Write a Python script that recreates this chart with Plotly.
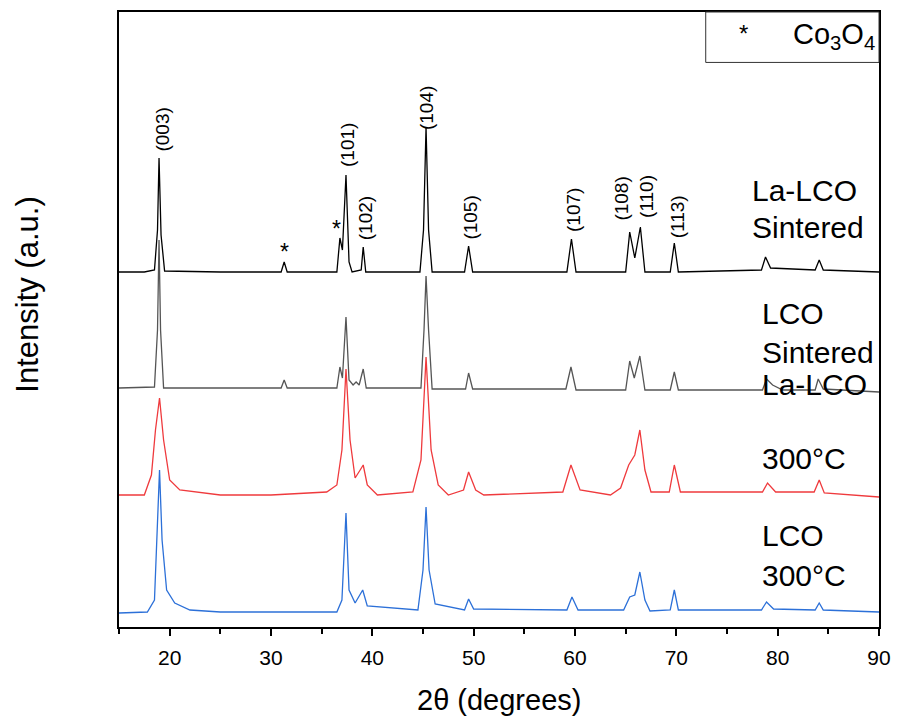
import plotly.graph_objects as go

# ---- data (2theta in degrees, intensity in arbitrary units, already offset) ----
la_sint_x = [15.0, 17.5, 18.5, 18.8, 18.95, 19.15, 19.5, 25.0, 31.0, 31.3, 31.6, 36.5, 36.8, 37.05, 37.4, 37.7,
             38.0, 38.9, 39.1, 39.35, 44.7, 45.05, 45.3, 45.55, 45.9, 49.1, 49.5, 49.9, 59.2, 59.65, 60.1,
             65.0, 65.4, 65.9, 66.45, 66.9, 69.4, 69.8, 70.2, 78.4, 78.8, 79.3, 83.7, 84.1, 84.5, 90.0]
la_sint_y = [355, 355, 357, 397, 469, 392, 356, 355, 355, 365, 355, 355, 389, 377, 452, 365,
             355, 357, 380, 355, 355, 397, 500, 397, 355, 355, 381, 355, 355, 388, 355,
             355, 395, 369, 400, 355, 355, 384, 355, 357, 370, 359, 357, 367, 357, 355]

lco_sint_x = [15.0, 18.5, 18.8, 18.95, 19.1, 19.4, 31.0, 31.3, 31.6, 36.5, 36.8, 37.05, 37.4, 37.7, 38.1, 38.4,
              38.7, 39.1, 39.4, 44.8, 45.1, 45.3, 45.55, 45.9, 49.2, 49.5, 49.9, 59.1, 59.6, 60.1,
              65.0, 65.4, 65.85, 66.4, 66.9, 69.4, 69.8, 70.2, 78.5, 78.9, 79.5, 80.5, 83.7, 84.0, 84.5, 90.0]
lco_sint_y = [239, 240, 297, 387, 297, 239, 239, 247, 239, 239, 260, 249, 310, 247, 242, 245,
              242, 258, 239, 239, 297, 351, 297, 238, 238, 254, 238, 238, 260, 237,
              237, 266, 249, 271, 237, 237, 255, 237, 237, 248, 242, 237, 237, 248, 238, 235]

la_300_x = [15.0, 17.5, 18.2, 18.6, 19.0, 19.4, 20.0, 21.0, 25.0, 30.0, 35.5, 36.5, 37.0, 37.4, 37.8, 38.3,
            38.8, 39.1, 39.5, 40.5, 44.0, 44.8, 45.3, 45.8, 46.5, 47.5, 49.0, 49.5, 50.2, 51.0,
            58.8, 59.6, 60.5, 63.5, 64.5, 65.3, 65.9, 66.4, 66.9, 67.5, 69.3, 69.8, 70.4,
            78.5, 79.0, 79.8, 83.6, 84.1, 84.6, 90.0]
la_300_y = [132, 132, 152, 197, 229, 187, 147, 137, 132, 132, 135, 142, 177, 258, 187, 149,
            157, 162, 142, 132, 135, 167, 270, 177, 142, 132, 137, 155, 137, 132,
            135, 162, 137, 132, 139, 162, 172, 197, 157, 135, 135, 162, 135,
            135, 144, 135, 135, 147, 134, 130]

lco_300_x = [15.0, 17.8, 18.5, 18.8, 19.0, 19.25, 19.7, 20.5, 22.0, 25.0, 36.5, 37.0, 37.4, 37.7, 38.3,
             39.05, 39.5, 44.5, 45.0, 45.3, 45.6, 46.2, 49.1, 49.5, 50.0, 59.2, 59.7, 60.3,
             64.8, 65.4, 65.9, 66.4, 66.9, 67.4, 69.4, 69.8, 70.2, 78.4, 78.9, 79.6, 83.7, 84.1, 84.5, 90.0]
lco_300_y = [14, 15, 27, 107, 157, 87, 37, 24, 17, 15, 15, 27, 114, 37, 24,
             37, 21, 17, 57, 120, 57, 23, 17, 28, 18, 17, 30, 17,
             17, 30, 32, 55, 27, 16, 17, 37, 17, 17, 25, 18, 17, 24, 17, 15]

# hkl labels: (label, 2theta, label-centre intensity)
hkl_labels = ["(003)", "(101)", "(102)", "(104)", "(105)", "(107)", "(108)", "(110)", "(113)"]
hkl_x = [19.2, 37.5, 39.3, 45.3, 49.6, 59.8, 64.5, 67.0, 70.1]
hkl_y = [497, 482, 409, 519, 409, 417, 428, 431, 410]

star_x = [31.3, 36.5]
star_y = [375, 398]

sample_lines = ["La-LCO", "Sintered", "LCO", "Sintered", "La-LCO", "300°C", "LCO", "300°C"]
sample_x = [77.3, 77.3, 78.3, 78.3, 78.3, 78.3, 78.3, 78.3]
sample_y = [437, 400, 314, 275, 243, 169, 92, 52]

colors = ["#000000", "#555555", "#ef3a3d", "#2c70d8"]

fig = go.Figure()
series = [(la_sint_x, la_sint_y), (lco_sint_x, lco_sint_y), (la_300_x, la_300_y), (lco_300_x, lco_300_y)]
for (xs, ys), c in zip(series, colors):
    fig.add_trace(go.Scatter(x=xs, y=ys, mode="lines", line=dict(color=c, width=1.3),
                             showlegend=False, hoverinfo="skip"))

font_family = '"Liberation Sans", Arial, sans-serif'

for lab, x, y in zip(hkl_labels, hkl_x, hkl_y):
    fig.add_annotation(x=x, y=y, text=lab, showarrow=False, textangle=-90,
                       font=dict(size=19, color="#000", family=font_family))

for x, y in zip(star_x, star_y):
    fig.add_annotation(x=x, y=y, text="*", showarrow=False,
                       font=dict(size=23, color="#000", family=font_family))

for t, x, y in zip(sample_lines, sample_x, sample_y):
    fig.add_annotation(x=x, y=y, text=t, showarrow=False, xanchor="left",
                       font=dict(size=30, color="#000", family=font_family))

# Co3O4 legend box
fig.add_shape(type="rect", xref="paper", yref="paper", x0=0.772, x1=1.0, y0=0.918, y1=1.0,
              line=dict(color="#333", width=1), fillcolor="white")
fig.add_annotation(xref="paper", yref="paper", x=0.83, y=0.99, text="*", showarrow=False,
                   font=dict(size=24, color="#000", family=font_family))
fig.add_annotation(xref="paper", yref="paper", x=0.997, y=0.993, xanchor="right",
                   text="Co<sub>3</sub>O<sub>4</sub>", showarrow=False,
                   font=dict(size=29, color="#000", family=font_family))

# axis titles as paper annotations (fixed positions)
fig.add_annotation(xref="paper", yref="paper", x=-0.12, y=0.54, xanchor="center", yanchor="middle",
                   text="Intensity (a.u.)", textangle=-90, showarrow=False,
                   font=dict(size=31, color="#000", family=font_family))
fig.add_annotation(xref="paper", yref="paper", x=0.5, y=-0.1185, xanchor="center", yanchor="middle",
                   text="2θ (degrees)", showarrow=False,
                   font=dict(size=29, color="#000", family=font_family))

fig.update_layout(
    width=898, height=719,
    margin=dict(l=119, r=19, t=12, b=92, autoexpand=False),
    plot_bgcolor="white", paper_bgcolor="white",
    font=dict(family=font_family, color="#000"),
)
fig.update_xaxes(range=[15, 90], tick0=0, dtick=10, ticks="outside", ticklen=7, tickwidth=1.5,
                 tickcolor="#000", showline=True, linecolor="#000", linewidth=2, mirror=True,
                 showgrid=False, zeroline=False, tickfont=dict(size=21), ticklabelstandoff=4,
                 minor=dict(ticks="outside", dtick=5, ticklen=5, tickwidth=1.5, tickcolor="#000", showgrid=False))
fig.update_yaxes(range=[0, 615], showticklabels=False, ticks="", showline=True, linecolor="#000",
                 linewidth=2, mirror=True, showgrid=False, zeroline=False)

fig.write_html("out.html")
